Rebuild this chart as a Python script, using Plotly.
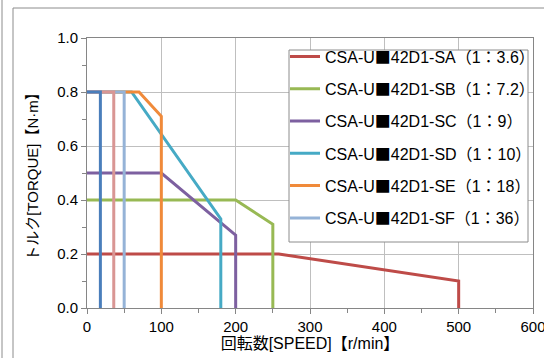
import plotly.graph_objects as go

# Series data (speed r/min, torque N·m)
SQ = "<span style=\"font-family:'Noto Sans CJK JP'\">■</span>"
names = [
    "CSA-U" + SQ + "42D1-SA（1：3.6）",
    "CSA-U" + SQ + "42D1-SB（1：7.2）",
    "CSA-U" + SQ + "42D1-SC（1：9）",
    "CSA-U" + SQ + "42D1-SD（1：10）",
    "CSA-U" + SQ + "42D1-SE（1：18）",
    "CSA-U" + SQ + "42D1-SF（1：36）",
    "CSA-U■42D1-SG",
    "CSA-U■42D1-SH",
]
sa_x = [0, 258, 500, 500]
sa_y = [0.2, 0.2, 0.1, 0.0]
sb_x = [0, 200, 250, 250]
sb_y = [0.4, 0.4, 0.31, 0.0]
sc_x = [0, 100, 200, 200]
sc_y = [0.5, 0.5, 0.27, 0.0]
sd_x = [0, 60, 180, 180]
sd_y = [0.8, 0.8, 0.33, 0.0]
se_x = [0, 70, 100, 100]
se_y = [0.8, 0.8, 0.71, 0.0]
sf_x = [0, 50, 50]
sf_y = [0.8, 0.8, 0.0]
sg_x = [0, 36, 36]
sg_y = [0.8, 0.8, 0.0]
sh_x = [0, 18, 18]
sh_y = [0.8, 0.8, 0.0]

xs = [sa_x, sb_x, sc_x, sd_x, se_x, sf_x, sg_x, sh_x]
ys = [sa_y, sb_y, sc_y, sd_y, se_y, sf_y, sg_y, sh_y]
colors = ["#BE4B48", "#98B954", "#7D60A0", "#46AAC5", "#F08A3A", "#95B3D7", "#D99694", "#4A7EBB"]
legend_on = [True, True, True, True, True, True, False, False]

fig = go.Figure()
for i in range(len(names)):
    fig.add_trace(go.Scatter(
        x=xs[i], y=ys[i], mode="lines", name=names[i],
        line=dict(color=colors[i], width=3),
        showlegend=legend_on[i], legendgroup="g%d" % i,
    ))

fam = "Liberation Sans, Arial, Noto Sans CJK JP"
axis_font = dict(family=fam, size=15, color="#000000")

L, T, PW, PH = 87, 38, 446, 270

fig.update_layout(
    width=544, height=358,
    margin=dict(l=L, r=544 - L - PW, t=T, b=358 - T - PH, autoexpand=False),
    paper_bgcolor="#ffffff", plot_bgcolor="#ffffff",
    showlegend=True,
    legend=dict(
        x=(285 - L) / PW, y=1 - (39.5 - T) / PH, xanchor="left", yanchor="top",
        bgcolor="rgba(0,0,0,0)", borderwidth=0,
        font=dict(family=fam, size=16, color="#000000"),
        tracegroupgap=8.5, traceorder="grouped",
    ),
    xaxis=dict(
        range=[0, 600], dtick=100, tick0=0, automargin=False,
        showgrid=True, gridcolor="#bfbfbf", gridwidth=1,
        showline=True, linecolor="#868686", linewidth=1, mirror=True,
        ticks="outside", ticklen=5, tickcolor="#868686",
        minor=dict(dtick=50, ticks="outside", ticklen=4, tickcolor="#868686", showgrid=False),
        tickfont=axis_font, zeroline=False, ticklabeloverflow="allow",
        title=dict(text="回転数[SPEED]【r/min】", font=dict(family=fam, size=16, color="#000000"), standoff=2),
    ),
    yaxis=dict(
        range=[0, 1.0], dtick=0.2, tick0=0, tickformat=".1f", automargin=False,
        showgrid=True, gridcolor="#bfbfbf", gridwidth=1,
        showline=True, linecolor="#868686", linewidth=1, mirror=True,
        ticks="outside", ticklen=5, tickcolor="#868686",
        minor=dict(dtick=0.1, ticks="outside", ticklen=4, tickcolor="#868686", showgrid=False),
        tickfont=axis_font, zeroline=False, ticklabeloverflow="allow",
        title=dict(text="トルク[TORQUE]【N·m】", font=dict(family=fam, size=15, color="#000000"), standoff=14),
    ),
)

# legend box (white panel with grey border)
fig.add_shape(type="rect", xref="paper", yref="paper",
              x0=(289 - L) / PW, x1=(528 - L) / PW,
              y0=1 - (242 - T) / PH, y1=1 - (50 - T) / PH,
              line=dict(color="#8c8c8c", width=1), fillcolor="#ffffff", layer="above")

# chart-area frame lines (decoration)
fig.add_shape(type="rect", xref="paper", yref="paper",
              x0=(13 - L) / PW, x1=1.2, y0=-0.5, y1=1 - (8 - T) / PH,
              line=dict(color="#8c8c8c", width=1), fillcolor="rgba(0,0,0,0)", layer="below")
fig.add_shape(type="line", xref="paper", yref="paper",
              x0=(2 - L) / PW, x1=(2 - L) / PW, y0=-0.5, y1=1.5,
              line=dict(color="#8c8c8c", width=1))

fig.write_html("out.html", config={"displayModeBar": False},
               post_script="document.body.style.margin='0';document.body.style.overflow='hidden';")
